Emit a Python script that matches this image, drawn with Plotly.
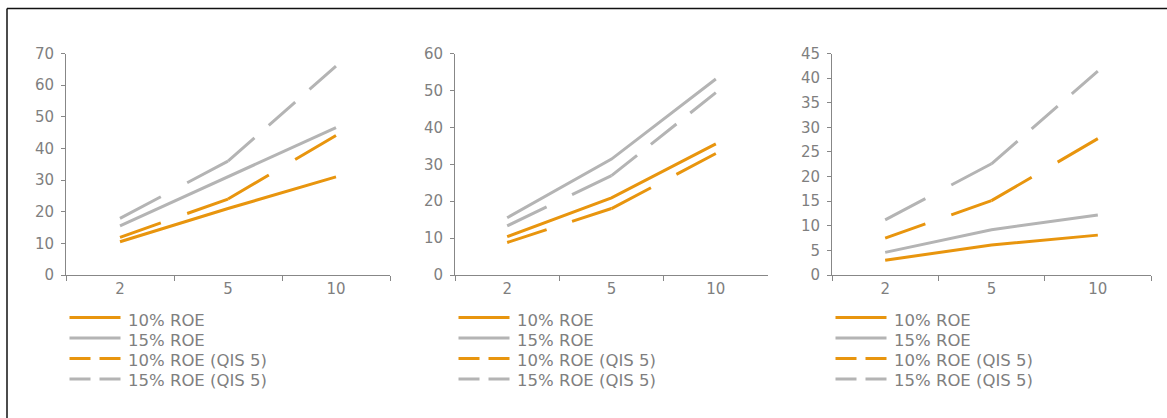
import math
import plotly.graph_objects as go

# ---- data -----------------------------------------------------------------
categories = ["2", "5", "10"]
series_names = ["10% ROE", "15% ROE", "10% ROE (QIS 5)", "15% ROE (QIS 5)"]

# panel 1
p1_roe10 = [10.5, 21.0, 31.0]
p1_roe15 = [15.5, 31.0, 46.6]
p1_roe10_qis5 = [11.9, 24.0, 44.1]
p1_roe15_qis5 = [17.9, 36.0, 66.0]

# panel 2
p2_roe10 = [10.4, 20.9, 35.5]
p2_roe15 = [15.5, 31.4, 53.1]
p2_roe10_qis5 = [8.8, 18.0, 32.9]
p2_roe15_qis5 = [13.3, 26.9, 49.4]

# panel 3
p3_roe10 = [3.0, 6.1, 8.1]
p3_roe15 = [4.6, 9.2, 12.2]
p3_roe10_qis5 = [7.5, 15.1, 27.7]
p3_roe15_qis5 = [11.2, 22.6, 41.4]

y_max = [70, 60, 45]
y_step = [10, 10, 5]

# ---- styling --------------------------------------------------------------
W, H = 1167, 418
ORANGE = "#E8950E"
GREY = "#B4B4B4"
AXIS = "#878787"
TEXT = "#7F7F7F"
FONT = "DejaVu Sans"
LINE_W = 3

# plot-area geometry (pixels)
x_left = [66, 455, 832]
x_right = [390, 768, 1151]
y_top, y_bottom = 53.5, 275.0

panels = [
    [p1_roe10, p1_roe15, p1_roe10_qis5, p1_roe15_qis5],
    [p2_roe10, p2_roe15, p2_roe10_qis5, p2_roe15_qis5],
    [p3_roe10, p3_roe15, p3_roe10_qis5, p3_roe15_qis5],
]
colors = [ORANGE, GREY, ORANGE, GREY]
dashed = [False, False, True, True]

fig = go.Figure()


def fitted_dash(length):
    """Dash pattern that starts and ends a segment on a dash."""
    n = max(1, int(length // 65) + 1)
    if n == 1:
        return "solid"
    r = 1.55 if n == 2 else 1.85
    gap = length / (n * r + n - 1)
    return f"{gap * r:.2f}px,{gap:.2f}px"


for p, data in enumerate(panels):
    sfx = "" if p == 0 else str(p + 1)
    xa, ya = "x" + sfx, "y" + sfx
    px_per_cat = (x_right[p] - x_left[p]) / len(categories)
    px_per_unit = (y_bottom - y_top) / y_max[p]
    for s, vals in enumerate(data):
        if not dashed[s]:
            fig.add_trace(go.Scatter(
                x=categories, y=vals, mode="lines", name=series_names[s],
                line=dict(color=colors[s], width=LINE_W),
                xaxis=xa, yaxis=ya, showlegend=False, hoverinfo="skip"))
        else:
            # each segment gets its own dash pattern, restarted at every point
            for i in range(len(vals) - 1):
                dx = px_per_cat
                dy = (vals[i + 1] - vals[i]) * px_per_unit
                seg_len = math.hypot(dx, dy)
                fig.add_trace(go.Scatter(
                    x=categories[i:i + 2], y=vals[i:i + 2], mode="lines",
                    name=series_names[s],
                    line=dict(color=colors[s], width=LINE_W,
                              dash=fitted_dash(seg_len)),
                    xaxis=xa, yaxis=ya, showlegend=False, hoverinfo="skip"))

    fig.layout["xaxis" + sfx] = dict(
        domain=[x_left[p] / W, x_right[p] / W], anchor=ya,
        type="category", categoryorder="array", categoryarray=categories,
        range=[-0.5, len(categories) - 0.5], tickson="boundaries",
        ticks="outside", ticklen=5, tickcolor=AXIS, tickwidth=1,
        showline=True, linecolor=AXIS, linewidth=1,
        showgrid=False, zeroline=False, fixedrange=True, automargin=False,
        tickfont=dict(family=FONT, size=15, color=TEXT))
    fig.layout["yaxis" + sfx] = dict(
        domain=[1 - y_bottom / H, 1 - y_top / H], anchor=xa,
        range=[0, y_max[p]], dtick=y_step[p], tick0=0,
        ticks="outside", ticklen=4, tickcolor=AXIS, tickwidth=1,
        ticklabelstandoff=4,
        showline=True, linecolor=AXIS, linewidth=1,
        showgrid=False, zeroline=False, fixedrange=True, automargin=False,
        tickfont=dict(family=FONT, size=15, color=TEXT))

# ---- legends under each panel --------------------------------------------
legend_dash = ["solid", "solid", "21px,9px", "21px,9px"]
row_line_y = [317.5, 338.0, 358.5, 379.0]
row_text_y = [320.5, 340.5, 360.0, 380.0]
shapes, annotations = [], []
for p in range(3):
    lx = x_left[p] + 3.5
    for s, name in enumerate(series_names):
        shapes.append(dict(
            type="line", xref="paper", yref="paper",
            x0=lx / W, x1=(lx + 51) / W,
            y0=1 - row_line_y[s] / H, y1=1 - row_line_y[s] / H,
            line=dict(color=colors[s], width=LINE_W, dash=legend_dash[s])))
        annotations.append(dict(
            xref="paper", yref="paper", x=(lx + 56) / W, y=1 - row_text_y[s] / H,
            xanchor="left", yanchor="middle", showarrow=False, text=name,
            font=dict(family=FONT, size=16.5, color=TEXT)))

# outer frame: top and left edges
shapes.append(dict(type="line", xref="paper", yref="paper",
                   x0=7 / W, x1=1, y0=1 - 8.5 / H, y1=1 - 8.5 / H,
                   line=dict(color="#111111", width=1.5)))
shapes.append(dict(type="line", xref="paper", yref="paper",
                   x0=7 / W, x1=7 / W, y0=0, y1=1 - 8.5 / H,
                   line=dict(color="#111111", width=1.5)))

fig.update_layout(
    width=W, height=H, autosize=False,
    margin=dict(l=0, r=0, t=0, b=0, pad=0, autoexpand=False),
    paper_bgcolor="white", plot_bgcolor="white",
    showlegend=False, shapes=shapes, annotations=annotations,
    font=dict(family=FONT, color=TEXT))

fig.write_html("out.html", config={"displayModeBar": False})
